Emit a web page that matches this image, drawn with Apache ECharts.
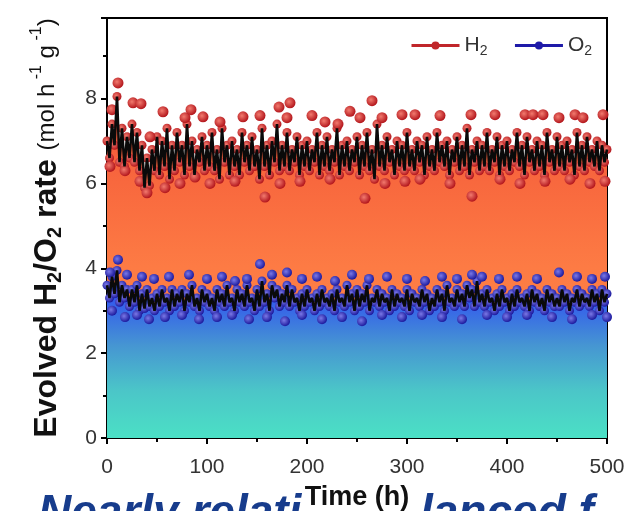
<!DOCTYPE html>
<html><head><meta charset="utf-8">
<script src="https://cdn.jsdelivr.net/npm/echarts@6/dist/echarts.min.js"></script>
<style>html,body{margin:0;padding:0;background:#fff}#c{width:644px;height:511px}</style>
</head><body><div id="c"></div>
<script>
// ---- data ----
// time axis step for line series: 2.5 h, 0..500
const timeStep = 2.5;
const h2Line = [
7.0,6.6,7.4,6.9,8.05,6.5,7.3,6.4,7.1,6.6,
7.4,6.5,7.2,6.3,6.9,5.9,6.6,5.95,6.8,6.3,
7.1,6.2,7.0,6.4,7.3,6.1,6.9,6.3,7.2,6.5,
6.9,6.2,7.4,6.4,7.0,6.2,6.8,6.5,7.1,6.3,
6.9,6.4,7.2,6.3,6.8,6.1,7.3,6.5,6.9,6.2,
7.0,6.4,6.8,6.2,7.2,6.5,6.9,6.3,7.1,6.4,
6.8,6.1,7.3,6.4,6.9,6.2,7.0,6.5,7.4,6.3,
6.9,6.4,7.2,6.3,6.8,6.5,7.1,6.2,6.9,6.4,
7.0,6.3,6.8,6.5,7.2,6.2,6.9,6.4,7.1,6.3,
6.8,6.5,7.3,6.2,6.9,6.4,7.0,6.3,6.8,6.5,
7.1,6.2,6.9,6.4,7.2,6.3,6.8,6.1,7.4,6.4,
6.9,6.3,7.1,6.5,6.8,6.2,7.0,6.4,6.9,6.3,
7.2,6.4,6.8,6.3,7.0,6.5,6.9,6.2,7.1,6.4,
6.8,6.3,7.2,6.5,6.9,6.4,7.0,6.2,6.8,6.5,
7.1,6.3,6.9,6.4,7.3,6.2,6.8,6.5,7.0,6.3,
6.9,6.4,7.2,6.3,6.8,6.5,7.1,6.2,6.9,6.4,
7.0,6.3,6.8,6.5,7.2,6.4,6.9,6.2,7.1,6.5,
6.8,6.3,7.0,6.4,6.9,6.2,7.2,6.5,6.8,6.3,
7.1,6.4,6.9,6.3,7.0,6.5,6.8,6.2,7.2,6.4,
6.9,6.3,7.1,6.5,6.8,6.4,7.0,6.3,6.9,6.5,
6.8];
const o2Line = [
3.6,3.3,3.8,3.4,3.95,3.2,3.6,3.3,3.5,3.1,
3.5,3.2,3.6,3.0,3.4,3.05,3.5,3.1,3.3,3.0,
3.4,3.1,3.5,3.2,3.3,3.0,3.5,3.1,3.4,3.2,
3.5,3.0,3.4,3.2,3.6,3.1,3.3,3.0,3.5,3.2,
3.4,3.1,3.3,3.0,3.5,3.2,3.4,3.1,3.6,3.2,
3.3,3.0,3.5,3.2,3.4,3.1,3.6,3.2,3.3,3.0,
3.5,3.1,3.7,3.2,3.4,3.0,3.6,3.3,3.5,3.1,
3.4,3.2,3.6,3.1,3.5,3.2,3.3,3.0,3.4,3.1,
3.5,3.2,3.3,3.0,3.4,3.1,3.5,3.2,3.3,3.1,
3.4,3.0,3.5,3.2,3.3,3.1,3.6,3.2,3.4,3.0,
3.5,3.1,3.4,3.2,3.6,3.0,3.3,3.2,3.5,3.1,
3.4,3.2,3.3,3.0,3.5,3.1,3.4,3.2,3.3,3.1,
3.5,3.0,3.4,3.2,3.3,3.1,3.5,3.2,3.4,3.0,
3.3,3.1,3.5,3.2,3.4,3.0,3.6,3.2,3.3,3.1,
3.5,3.2,3.4,3.1,3.6,3.3,3.5,3.1,3.7,3.2,
3.4,3.1,3.5,3.2,3.3,3.0,3.4,3.1,3.5,3.2,
3.3,3.0,3.4,3.1,3.5,3.2,3.3,3.1,3.4,3.0,
3.5,3.2,3.4,3.1,3.3,3.0,3.5,3.2,3.4,3.1,
3.3,3.1,3.5,3.2,3.4,3.0,3.3,3.2,3.5,3.1,
3.4,3.2,3.3,3.1,3.5,3.2,3.4,3.0,3.5,3.2,
3.4];
// outlying marker points [time, rate]
const h2Dots = [
[5,7.74],[11,8.37],[26,7.9],[34,7.88],[43,7.1],[56,7.69],[78,7.55],[84,7.74],[96,7.57],
[113,7.45],[136,7.57],[153,7.6],[172,7.8],[183,7.9],[180,7.55],[205,7.6],[218,7.45],[231,7.4],
[243,7.7],[253,7.55],[265,7.95],[275,7.55],[295,7.62],[308,7.62],[333,7.6],[364,7.62],[388,7.62],
[418,7.62],[426,7.62],[436,7.62],[452,7.55],[468,7.62],[476,7.55],[496,7.62],
[3,6.4],[18,6.3],[33,6.05],[40,5.78],[58,5.9],[73,6.0],[88,6.15],[103,6.0],[128,6.05],
[158,5.68],[173,6.0],[193,6.05],[223,6.1],[258,5.65],[278,6.0],[298,6.05],[313,6.1],
[343,6.0],[365,5.7],[393,6.1],[413,6.0],[438,6.05],[463,6.1],[483,6.0],[498,6.05]];
const o2Dots = [
[3,3.9],[11,4.2],[20,3.85],[35,3.8],[47,3.75],[62,3.8],[82,3.85],[100,3.75],[115,3.8],
[128,3.7],[140,3.75],[153,4.1],[165,3.85],[180,3.9],[195,3.75],[210,3.8],[228,3.7],[245,3.85],
[262,3.75],[280,3.8],[300,3.75],[318,3.7],[335,3.8],[350,3.75],[365,3.85],[375,3.8],[392,3.75],
[410,3.8],[430,3.75],[452,3.9],[470,3.8],[485,3.75],[498,3.8],
[5,3.0],[18,2.85],[30,2.9],[42,2.8],[58,2.85],[75,2.9],[92,2.8],[110,2.85],[125,2.9],
[142,2.8],[160,2.85],[178,2.75],[195,2.9],[215,2.8],[235,2.85],[255,2.75],[275,2.9],[295,2.85],
[315,2.9],[335,2.85],[355,2.8],[380,2.9],[400,2.85],[420,2.9],[445,2.85],[465,2.8],[485,2.9],[500,2.85]];
const xTicks = [0,100,200,300,400,500];
const yTicks = [0,2,4,6,8];

// ---- build ----
const toXY = arr => arr.map((v,i)=>[i*timeStep, v]);
const h2XY = toXY(h2Line), o2XY = toXY(o2Line);
const F = 'Liberation Sans, Arial, sans-serif';
const redDot = {type:'radial',x:0.4,y:0.4,r:0.6,colorStops:[{offset:0,color:'#f27a6e'},{offset:1,color:'#b3161c'}]};
const blueDot = {type:'radial',x:0.4,y:0.4,r:0.6,colorStops:[{offset:0,color:'#7a78e6'},{offset:1,color:'#1c1a9e'}]};
const chart = echarts.init(document.getElementById('c'), null, {renderer:'canvas'});
chart.setOption({
  animation:false,
  backgroundColor:'#fff',
  grid:{left:107,right:37,top:18,bottom:73,show:true,borderColor:'#000',borderWidth:2,outerBoundsMode:'none',containLabel:false},
  legend:{
    left:405, top:30, itemWidth:48, itemHeight:10, itemGap:26,
    data:[
      {name:'H2', itemStyle:{color:'#c0262a'}, lineStyle:{color:'#c0262a',width:3,opacity:1}},
      {name:'O2', itemStyle:{color:'#1e1aa8'}, lineStyle:{color:'#1e1aa8',width:3,opacity:1}}
    ],
    formatter: n => n==='H2' ? '{m|H}{s|2}' : '{m|O}{s|2}',
    textStyle:{rich:{
      m:{fontSize:21,fontFamily:F,color:'#333',lineHeight:26,verticalAlign:'middle'},
      s:{fontSize:14,fontFamily:F,color:'#333',lineHeight:12,verticalAlign:'bottom'}
    }}
  },
  xAxis:[{
    type:'value', min:0, max:500, interval:100,
    axisLine:{show:true,lineStyle:{color:'#000',width:2}},
    axisTick:{show:true,length:6,lineStyle:{color:'#000',width:2}},
    minorTick:{show:true,splitNumber:2,length:4,lineStyle:{color:'#000',width:2}},
    splitLine:{show:false},
    axisLabel:{color:'#333',fontSize:21,fontFamily:F,margin:19,
      formatter:v=> xTicks.includes(v)? String(v):''},
    name:'Time (h)', nameLocation:'middle', nameGap:46,
    nameTextStyle:{fontSize:27,fontWeight:'bold',fontFamily:F,color:'#111'}
  },{
    type:'value', position:'top', min:0, max:500,
    axisLine:{show:true,lineStyle:{color:'#000',width:2}},
    axisTick:{show:false}, axisLabel:{show:false}, splitLine:{show:false}
  }],
  yAxis:[{
    type:'value', min:0, max:9.9, interval:2,
    axisLine:{show:true,lineStyle:{color:'#000',width:2}},
    axisTick:{show:true,length:6,lineStyle:{color:'#000',width:2}},
    minorTick:{show:true,splitNumber:2,length:4,lineStyle:{color:'#000',width:2}},
    splitLine:{show:false},
    axisLabel:{color:'#333',fontSize:21,fontFamily:F,margin:10,
      formatter:v=> yTicks.includes(v)? String(v):''},
    name:'{b|Evolved H}{bs|2}{b|/O}{bs|2}{b| rate }{u|(mol h}{us| -1}{u| g}{us| -1}{u|)}',
    nameLocation:'middle', nameGap:42, nameRotate:90,
    nameTextStyle:{rich:{
      b:{fontSize:32,fontWeight:'bold',fontFamily:F,color:'#111',lineHeight:36,verticalAlign:'middle'},
      bs:{fontSize:20,fontWeight:'bold',fontFamily:F,color:'#111',lineHeight:16,verticalAlign:'bottom'},
      u:{fontSize:24,fontFamily:F,color:'#111',lineHeight:36,verticalAlign:'middle'},
      us:{fontSize:16,fontFamily:F,color:'#111',lineHeight:14,verticalAlign:'top'}
    }}
  },{
    type:'value', position:'right', min:0, max:9.9,
    axisLine:{show:true,lineStyle:{color:'#000',width:2}},
    axisTick:{show:false}, axisLabel:{show:false}, splitLine:{show:false}
  }],
  graphic:[
    {type:'text', left:38, top:491, z:-1, style:{text:'Nearly relati', font:'italic bold 46px Liberation Sans, Arial, sans-serif', fill:'#173c8c'}},
    {type:'text', left:420, top:491, z:-1, style:{text:'lanced f', font:'italic bold 46px Liberation Sans, Arial, sans-serif', fill:'#173c8c'}}
  ],
  series:[
    {type:'line', data:h2XY, z:1, symbol:'none', lineStyle:{width:0,opacity:0}, silent:true,
     areaStyle:{opacity:1,color:{type:'linear',x:0,y:0,x2:0,y2:1,colorStops:[
       {offset:0,color:'#f0503a'},{offset:0.25,color:'#f8683e'},{offset:0.5,color:'#fd7b44'},{offset:1,color:'#ff8848'}]}}},
    {type:'line', data:o2XY, z:2, symbol:'none', lineStyle:{width:0,opacity:0}, silent:true,
     areaStyle:{opacity:1,color:{type:'linear',x:0,y:0,x2:0,y2:1,colorStops:[
       {offset:0,color:'#2a3ff0'},{offset:0.2,color:'#3560ea'},{offset:0.45,color:'#4696d2'},{offset:0.72,color:'#4bc6c8'},{offset:1,color:'#4be0c5'}]}}},
    {name:'H2', type:'line', data:h2XY, z:3, symbol:'circle', symbolSize:9, showSymbol:true,
     lineStyle:{width:0,opacity:0}, itemStyle:{color:redDot}},
    {type:'line', data:h2Dots, z:3, symbol:'circle', symbolSize:11, lineStyle:{width:0,opacity:0},
     itemStyle:{color:redDot}},
    {type:'line', data:h2XY, z:4, symbol:'none', lineStyle:{color:'#0a0a0a',width:2.6}},
    {name:'O2', type:'line', data:o2XY, z:5, symbol:'circle', symbolSize:9, showSymbol:true,
     lineStyle:{width:0,opacity:0}, itemStyle:{color:blueDot}},
    {type:'line', data:o2Dots, z:5, symbol:'circle', symbolSize:10, lineStyle:{width:0,opacity:0},
     itemStyle:{color:blueDot}},
    {type:'line', data:o2XY, z:6, symbol:'none', lineStyle:{color:'#0a0a0a',width:2.6}}
  ]
});
</script></body></html>
